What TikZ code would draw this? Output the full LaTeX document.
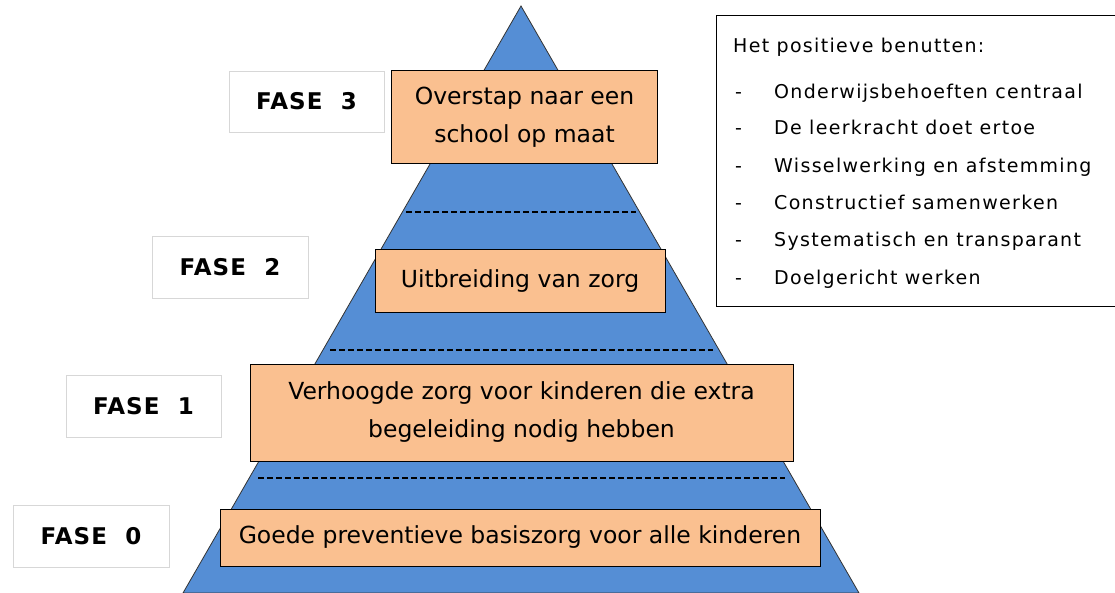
\documentclass[tikz,border=0pt]{standalone}
\usepackage{fontspec}
\setmainfont{DejaVu Sans}
\newfontfamily\listfont[LetterSpace=7]{DejaVu Sans}
\newfontfamily\labelfont[LetterSpace=5]{DejaVu Sans Bold}
\definecolor{pyrblue}{RGB}{85,142,213}
\definecolor{boxorange}{RGB}{250,192,144}
\definecolor{lblgray}{RGB}{215,215,215}
\begin{document}
\begin{tikzpicture}[x=1pt,y=-1pt,
  phase/.style={draw=black, line width=1pt, fill=boxorange, inner sep=0pt, align=center, font=\fontsize{23.5}{38}\selectfont},
  faselabel/.style={draw=lblgray, line width=0.8pt, fill=white, inner sep=0pt, font=\labelfont\fontsize{23}{25}\selectfont},
  divider/.style={line width=1.1pt, dash pattern=on 6pt off 3pt},
  listitem/.style={anchor=base west, inner sep=0pt, font=\listfont\fontsize{19}{22}\selectfont}
]
\useasboundingbox (0,0) rectangle (1115,593);
\begin{scope}
\clip (0,0) rectangle (1115,593);
\filldraw[fill=pyrblue, draw=black!80, line width=0.8pt] (521,6) -- (859,593) -- (183,593) -- cycle;
\end{scope}
% dashed dividers
\coordinate (d3l) at (406,212); \coordinate (d3r) at (636,212);
\coordinate (d2l) at (330,350); \coordinate (d2r) at (713,350);
\coordinate (d1l) at (258,478); \coordinate (d1r) at (785,478);
\draw[divider] (d3l) -- (d3r);
\draw[divider] (d2l) -- (d2r);
\draw[divider] (d1l) -- (d1r);
% phase boxes
\node[phase, minimum width=266pt, minimum height=93pt] (p3) at (524.5,117.5) {Overstap naar een\\school op maat};
\node[phase, minimum width=290pt, minimum height=62pt] (p2) at (520,281) {Uitbreiding van zorg};
\node[phase, minimum width=543pt, minimum height=97pt] (p1) at (521.5,412.5) {Verhoogde zorg voor kinderen die extra\\begeleiding nodig hebben};
\node[phase, minimum width=600pt, minimum height=57pt] (p0) at (520,537.5) {Goede preventieve basiszorg voor alle kinderen};
% labels
\node[faselabel, minimum width=155pt, minimum height=61pt] (f3) at (306.5,101.5) {FASE\ \ 3};
\node[faselabel, minimum width=156pt, minimum height=62pt] (f2) at (230,267.5) {FASE\ \ 2};
\node[faselabel, minimum width=155pt, minimum height=62pt] (f1) at (143.5,406) {FASE\ \ 1};
\node[faselabel, minimum width=156pt, minimum height=62pt] (f0) at (91,536) {FASE\ \ 0};
% right box
\node[draw=black, line width=1pt, fill=white, minimum width=404pt, minimum height=290pt, inner sep=0pt] (rb) at (918,161) {};
\node[listitem] (h) at (733,53) {Het positieve benutten:};
\foreach \y/\t [count=\i] in {99/Onderwijsbehoeften centraal, 135/De leerkracht doet ertoe, 173/Wisselwerking en afstemming, 210/Constructief samenwerken, 247/Systematisch en transparant, 284/Doelgericht werken}{
  \node[listitem] (dash\i) at (735,\y) {-};
  \node[listitem] (item\i) at (774,\y) {\t};
}
\end{tikzpicture}
\end{document}
